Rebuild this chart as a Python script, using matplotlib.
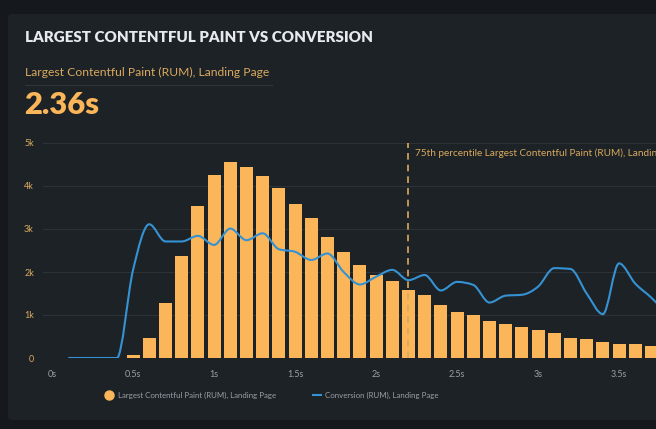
import numpy as np
import matplotlib
matplotlib.use("Agg")
import matplotlib.pyplot as plt
from matplotlib.path import Path
from matplotlib.patches import PathPatch, FancyBboxPatch
from matplotlib.lines import Line2D
from matplotlib.ticker import FuncFormatter

# ---------------- data ----------------
bar_x = [0.5, 0.6, 0.7, 0.8, 0.9, 1.0, 1.1, 1.2, 1.3, 1.4, 1.5, 1.6, 1.7, 1.8, 1.9,
         2.0, 2.1, 2.2, 2.3, 2.4, 2.5, 2.6, 2.7, 2.8, 2.9, 3.0, 3.1, 3.2, 3.3, 3.4,
         3.5, 3.6, 3.7]
bar_vals = [80, 460, 1270, 2370, 3530, 4260, 4560, 4440, 4240, 3950, 3570, 3260, 2820,
            2470, 2160, 1920, 1790, 1580, 1470, 1230, 1080, 1000, 860, 780, 720, 640,
            570, 470, 440, 380, 320, 320, 290]

conv_x = [0.1, 0.2, 0.3, 0.4, 0.5, 0.6, 0.7, 0.8, 0.9, 1.0, 1.1, 1.2, 1.3, 1.4, 1.5,
          1.6, 1.7, 1.8, 1.9, 2.0, 2.1, 2.2, 2.3, 2.4, 2.5, 2.6, 2.7, 2.8, 2.9, 3.0,
          3.1, 3.2, 3.3, 3.4, 3.5, 3.6, 3.7, 3.8]
conv_vals = [0, 0, 0, 0, 2050, 3110, 2710, 2710, 2840, 2630, 3010, 2740, 2900, 2530,
             2470, 2280, 2430, 2000, 1710, 1890, 2050, 1810, 1930, 1570, 1770, 1700,
             1290, 1450, 1470, 1660, 2090, 2070, 1500, 1020, 2200, 1730, 1400, 1000]

x_ticks = [0, 0.5, 1, 1.5, 2, 2.5, 3, 3.5]
y_ticks = [0, 1000, 2000, 3000, 4000, 5000]
p75 = 2.2

title = "LARGEST CONTENTFUL PAINT VS CONVERSION"
subtitle = "Largest Contentful Paint (RUM), Landing Page"
big_value = "2.36s"
p75_label = "75th percentile Largest Contentful Paint (RUM), Landing Page"
legend_labels = ["Largest Contentful Paint (RUM), Landing Page",
                 "Conversion (RUM), Landing Page"]

# ---------------- style ----------------
OUTER = "#15191d"
PANEL = "#1d2226"
ORANGE = "#fbb65a"
TAN = "#d9a95e"
BLUE = "#3592d3"
GRID = "#2c3237"
GREY = "#9aa0a6"
FONT = ["Lato", "DejaVu Sans"]

W, H = 656, 429
fig = plt.figure(figsize=(W / 100, H / 100), dpi=100, facecolor=OUTER)

panel = FancyBboxPatch((8 / W, (H - 420) / H), 1.0, (420 - 14) / H,
                       boxstyle="round,pad=0,rounding_size=0.008",
                       transform=fig.transFigure, facecolor=PANEL,
                       edgecolor="none", zorder=-10)
fig.patches.append(panel)

fig.text(25 / W, 1 - 38 / H, title, color="#e6eaee", fontsize=10.9,
         fontweight="heavy", family=FONT, va="center", ha="left")
fig.text(25 / W, 1 - 72 / H, subtitle, color=TAN, fontsize=8.7,
         family=FONT, va="center", ha="left")
fig.add_artist(Line2D([25 / W, 272 / W], [1 - 85 / H, 1 - 85 / H],
                      transform=fig.transFigure, color="#2e353b", lw=0.8))
fig.text(24 / W, 1 - 105 / H, big_value, color=ORANGE, fontsize=22.3,
         fontweight="heavy", family=FONT, va="center", ha="left")

left_px, right_px = 43, W
top_px, bot_px = 143, 358
ax = fig.add_axes([left_px / W, (H - bot_px) / H, (right_px - left_px) / W,
                   (bot_px - top_px) / H])
ax.set_facecolor("none")
ax.set_xlim(-0.056, 3.728)
ax.set_ylim(0, 5000)

for s in ax.spines.values():
    s.set_visible(False)
ax.set_yticks(y_ticks)
ax.set_xticks(x_ticks)
ax.yaxis.set_major_formatter(FuncFormatter(lambda v, p: "0" if v == 0 else f"{int(v/1000)}k"))
ax.xaxis.set_major_formatter(FuncFormatter(lambda v, p: f"{v:g}s"))
ax.tick_params(axis="y", length=0, pad=6.5, labelcolor=TAN, labelsize=6.5)
ax.tick_params(axis="x", length=0, pad=8.5, labelcolor=GREY, labelsize=6.5)
for lab in ax.get_xticklabels() + ax.get_yticklabels():
    lab.set_family(FONT)
ax.grid(axis="y", color=GRID, lw=0.8, zorder=0)
ax.set_axisbelow(True)

ax.bar(bar_x, bar_vals, width=0.08, color=ORANGE, zorder=2)

# monotone cubic curve (d3 curveMonotoneX style) drawn as Bezier path
xs = np.array(conv_x, float)
ys = np.array(conv_vals, float)
n = len(xs)
h = np.diff(xs)
s = np.diff(ys) / h
t = np.zeros(n)
for i in range(1, n - 1):
    h0, h1 = h[i - 1], h[i]
    s0, s1 = s[i - 1], s[i]
    p = (s0 * h1 + s1 * h0) / (h0 + h1)
    t[i] = (np.sign(s0) + np.sign(s1)) * min(abs(s0), abs(s1), 0.5 * abs(p))
t[0] = (3 * s[0] - t[1]) / 2
t[-1] = (3 * s[-1] - t[-2]) / 2
verts = [(xs[0], ys[0])]
codes = [Path.MOVETO]
for i in range(n - 1):
    dx = (xs[i + 1] - xs[i]) / 3
    verts += [(xs[i] + dx, ys[i] + dx * t[i]),
              (xs[i + 1] - dx, ys[i + 1] - dx * t[i + 1]),
              (xs[i + 1], ys[i + 1])]
    codes += [Path.CURVE4] * 3
ax.add_patch(PathPatch(Path(verts, codes), facecolor="none", edgecolor=BLUE,
                       lw=1.5, zorder=4))

ax.axvline(p75, color=TAN, lw=1.2, ls=(0, (4, 3)), zorder=5)
ax.text(p75 + 0.04, 4760, p75_label, color=TAN, fontsize=7.2, family=FONT,
        va="center", ha="left", clip_on=False)

handles = [Line2D([], [], marker="o", ls="none", color=ORANGE, markersize=6.5),
           Line2D([], [], color=BLUE, lw=1.5)]
leg = fig.legend(handles, legend_labels, loc="center", ncol=2,
                 bbox_to_anchor=(272 / W, 1 - 395 / H), frameon=False,
                 labelcolor=GREY, columnspacing=4.7,
                 handlelength=1.05, handletextpad=0.5,
                 prop={"family": FONT, "size": 5.7})

fig.savefig("out.png", dpi=100, facecolor=OUTER)
